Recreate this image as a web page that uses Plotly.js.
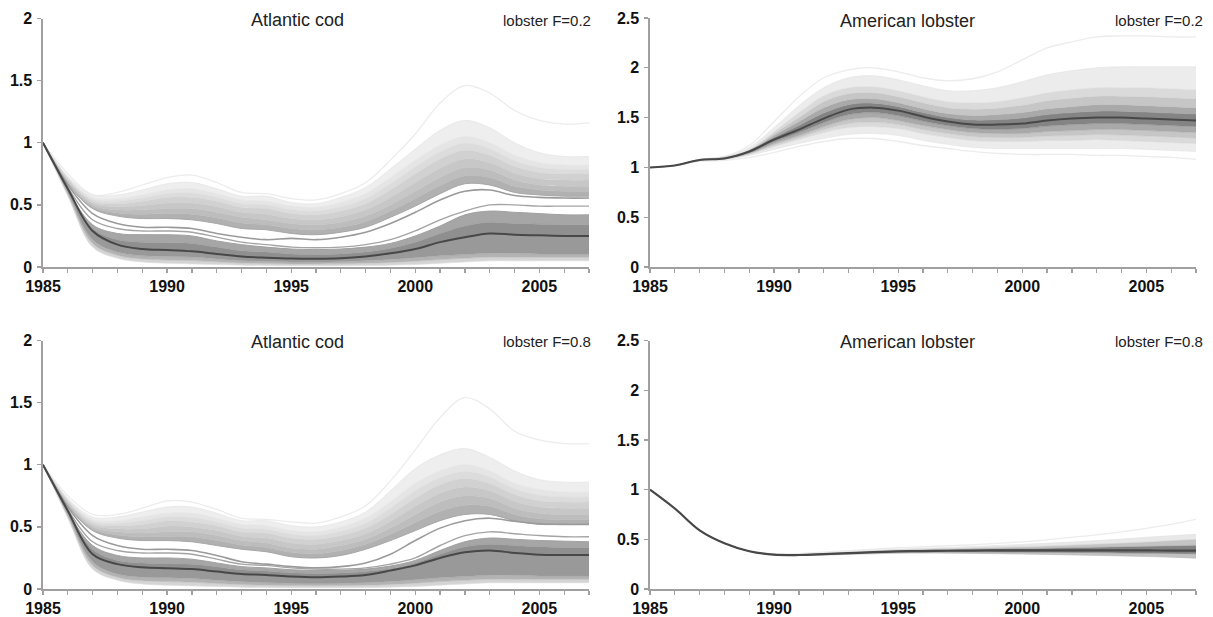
<!DOCTYPE html>
<html>
<head>
<meta charset="utf-8">
<script src="https://cdn.plot.ly/plotly-3.0.1.min.js"></script>
<style>html,body{margin:0;padding:0;background:#fff;}#chart{width:1213px;height:617px;}</style>
</head>
<body>
<div id="chart"></div>
<script>
// ---------- DATA ----------
const years = [1985,1986,1987,1988,1989,1990,1991,1992,1993,1994,1995,1996,1997,1998,1999,2000,2001,2002,2003,2004,2005,2006,2007];

const panelTitles = ["Atlantic cod","American lobster","Atlantic cod","American lobster"];
const panelTags = ["lobster F=0.2","lobster F=0.2","lobster F=0.8","lobster F=0.8"];
const yTickLabelsCod = [0,0.5,1,1.5,2];
const yTickLabelsLobster = [0,0.5,1,1.5,2,2.5];

// Atlantic cod, lobster F=0.2
const cod02_outlier = [1,0.75,0.58,0.60,0.66,0.72,0.74,0.68,0.60,0.59,0.55,0.54,0.59,0.68,0.86,1.07,1.32,1.46,1.40,1.26,1.18,1.15,1.16];
const cod02_u1 = [1,0.73,0.58,0.58,0.62,0.67,0.68,0.63,0.57,0.57,0.52,0.51,0.56,0.64,0.79,0.95,1.10,1.18,1.12,1.00,0.92,0.89,0.89];
const cod02_u2 = [1,0.72,0.56,0.55,0.58,0.62,0.63,0.59,0.54,0.53,0.49,0.48,0.52,0.59,0.72,0.86,0.98,1.05,1.00,0.90,0.84,0.82,0.82];
const cod02_u2b = [1,0.715,0.545,0.53,0.555,0.59,0.595,0.56,0.51,0.50,0.46,0.45,0.485,0.55,0.67,0.805,0.925,0.995,0.95,0.855,0.80,0.785,0.785];
const cod02_u3 = [1,0.71,0.53,0.51,0.53,0.56,0.56,0.53,0.48,0.47,0.43,0.42,0.45,0.51,0.62,0.75,0.87,0.94,0.90,0.81,0.76,0.75,0.75];
const cod02_u3b = [1,0.70,0.515,0.485,0.495,0.515,0.515,0.485,0.44,0.425,0.39,0.38,0.405,0.46,0.56,0.68,0.795,0.87,0.84,0.755,0.71,0.70,0.70];
const cod02_u4 = [1,0.69,0.50,0.46,0.46,0.47,0.47,0.44,0.40,0.38,0.35,0.34,0.36,0.41,0.50,0.61,0.72,0.80,0.78,0.70,0.66,0.65,0.65];
const cod02_u4b = [1,0.68,0.485,0.435,0.425,0.43,0.425,0.395,0.355,0.34,0.31,0.30,0.32,0.365,0.45,0.55,0.655,0.735,0.72,0.65,0.62,0.61,0.61];
const cod02_u5 = [1,0.67,0.47,0.41,0.39,0.39,0.38,0.35,0.31,0.30,0.27,0.26,0.28,0.32,0.40,0.49,0.59,0.67,0.66,0.60,0.58,0.57,0.57];
const cod02_g1 = [1,0.66,0.43,0.35,0.32,0.32,0.31,0.27,0.24,0.22,0.23,0.22,0.24,0.28,0.35,0.44,0.54,0.61,0.62,0.575,0.56,0.555,0.555];
const cod02_g2 = [1,0.64,0.38,0.31,0.29,0.29,0.28,0.24,0.20,0.18,0.16,0.155,0.16,0.18,0.22,0.29,0.38,0.45,0.50,0.50,0.49,0.49,0.49];
const cod02_l1 = [1,0.62,0.34,0.27,0.26,0.26,0.25,0.21,0.18,0.16,0.145,0.14,0.145,0.16,0.19,0.25,0.33,0.42,0.45,0.44,0.43,0.42,0.42];
const cod02_l2 = [1,0.625,0.31,0.22,0.20,0.195,0.19,0.16,0.13,0.12,0.105,0.10,0.105,0.12,0.15,0.20,0.27,0.33,0.36,0.35,0.345,0.34,0.34];
const cod02_median = [1,0.63,0.29,0.18,0.145,0.137,0.126,0.105,0.085,0.075,0.068,0.066,0.07,0.085,0.11,0.145,0.20,0.24,0.27,0.26,0.255,0.25,0.25];
const cod02_l3 = [1,0.60,0.22,0.12,0.09,0.085,0.08,0.065,0.05,0.045,0.04,0.04,0.042,0.05,0.06,0.075,0.09,0.10,0.11,0.11,0.105,0.105,0.105];
const cod02_l3b = [1,0.585,0.19,0.095,0.065,0.057,0.052,0.042,0.032,0.028,0.025,0.025,0.026,0.031,0.037,0.047,0.06,0.07,0.08,0.08,0.078,0.078,0.078];
const cod02_l4 = [1,0.57,0.16,0.07,0.04,0.03,0.025,0.02,0.015,0.012,0.01,0.01,0.01,0.012,0.015,0.02,0.03,0.04,0.05,0.05,0.05,0.05,0.05];

// American lobster, lobster F=0.2
const lob02_t0 = [1,1.02,1.08,1.11,1.22,1.46,1.71,1.90,1.98,2.00,1.96,1.90,1.87,1.89,1.96,2.08,2.20,2.26,2.31,2.32,2.32,2.31,2.31];
const lob02_t1 = [1,1.02,1.08,1.11,1.20,1.40,1.62,1.80,1.90,1.92,1.88,1.82,1.77,1.77,1.80,1.86,1.93,1.97,2.00,2.01,2.01,2.01,2.01];
const lob02_t2 = [1,1.02,1.08,1.10,1.18,1.36,1.55,1.72,1.80,1.81,1.77,1.71,1.66,1.65,1.66,1.70,1.75,1.78,1.80,1.80,1.80,1.79,1.78];
const lob02_t2b = [1,1.02,1.08,1.10,1.175,1.34,1.50,1.66,1.74,1.75,1.71,1.65,1.60,1.585,1.595,1.625,1.67,1.695,1.715,1.715,1.71,1.70,1.69];
const lob02_t3 = [1,1.02,1.08,1.10,1.17,1.32,1.46,1.60,1.68,1.69,1.65,1.59,1.54,1.52,1.53,1.55,1.59,1.61,1.63,1.63,1.62,1.61,1.60];
const lob02_t3b = [1,1.02,1.077,1.095,1.165,1.30,1.42,1.545,1.63,1.645,1.61,1.55,1.50,1.475,1.48,1.495,1.53,1.55,1.565,1.565,1.555,1.545,1.535];
const lob02_median = [1,1.02,1.075,1.09,1.16,1.28,1.38,1.49,1.58,1.60,1.57,1.51,1.46,1.43,1.43,1.44,1.47,1.49,1.50,1.50,1.49,1.48,1.47];
const lob02_b3b = [1,1.02,1.072,1.085,1.15,1.26,1.35,1.45,1.53,1.55,1.52,1.465,1.42,1.39,1.385,1.39,1.415,1.43,1.44,1.44,1.43,1.42,1.41];
const lob02_b3 = [1,1.02,1.07,1.08,1.14,1.24,1.32,1.41,1.48,1.50,1.47,1.42,1.38,1.35,1.34,1.34,1.36,1.37,1.38,1.38,1.37,1.36,1.35];
const lob02_b2b = [1,1.02,1.07,1.08,1.135,1.225,1.30,1.38,1.44,1.455,1.43,1.38,1.34,1.31,1.30,1.30,1.315,1.32,1.33,1.325,1.315,1.305,1.295];
const lob02_b2 = [1,1.02,1.07,1.08,1.13,1.21,1.28,1.35,1.40,1.41,1.39,1.34,1.30,1.27,1.26,1.26,1.27,1.27,1.28,1.27,1.26,1.25,1.24];
const lob02_b1 = [1,1.02,1.07,1.08,1.12,1.18,1.24,1.29,1.33,1.34,1.32,1.27,1.23,1.20,1.19,1.19,1.19,1.19,1.19,1.19,1.18,1.17,1.16];
const lob02_b0 = [1,1.02,1.06,1.07,1.10,1.15,1.21,1.26,1.29,1.29,1.26,1.22,1.19,1.16,1.14,1.13,1.13,1.13,1.12,1.12,1.11,1.10,1.08];

// Atlantic cod, lobster F=0.8
const cod08_outlier = [1,0.75,0.60,0.60,0.65,0.71,0.70,0.64,0.57,0.56,0.54,0.53,0.58,0.67,0.87,1.12,1.38,1.54,1.45,1.27,1.20,1.17,1.17];
const cod08_u1 = [1,0.73,0.58,0.58,0.62,0.66,0.66,0.61,0.55,0.55,0.51,0.50,0.54,0.62,0.79,0.97,1.08,1.13,1.06,0.95,0.88,0.86,0.86];
const cod08_u2 = [1,0.72,0.56,0.55,0.58,0.61,0.61,0.57,0.52,0.51,0.47,0.46,0.50,0.57,0.70,0.85,0.95,1.00,0.95,0.85,0.80,0.78,0.78];
const cod08_u2b = [1,0.715,0.545,0.53,0.55,0.58,0.575,0.54,0.49,0.48,0.44,0.43,0.465,0.53,0.65,0.79,0.895,0.945,0.90,0.805,0.755,0.74,0.74];
const cod08_u3 = [1,0.71,0.53,0.51,0.52,0.55,0.54,0.51,0.46,0.45,0.41,0.40,0.43,0.49,0.60,0.73,0.84,0.89,0.85,0.76,0.71,0.70,0.70];
const cod08_u3b = [1,0.70,0.515,0.485,0.485,0.505,0.50,0.47,0.425,0.41,0.37,0.36,0.39,0.445,0.545,0.665,0.77,0.82,0.79,0.705,0.66,0.65,0.65];
const cod08_u4 = [1,0.69,0.50,0.46,0.45,0.46,0.46,0.43,0.39,0.37,0.33,0.32,0.35,0.40,0.49,0.60,0.70,0.75,0.73,0.65,0.61,0.60,0.60];
const cod08_u4b = [1,0.68,0.485,0.435,0.42,0.425,0.42,0.39,0.355,0.335,0.295,0.285,0.31,0.36,0.44,0.535,0.625,0.675,0.665,0.60,0.565,0.56,0.56];
const cod08_u5 = [1,0.67,0.47,0.41,0.39,0.39,0.38,0.35,0.32,0.30,0.26,0.25,0.27,0.32,0.39,0.47,0.55,0.60,0.60,0.55,0.52,0.52,0.52];
const cod08_g1 = [1,0.66,0.43,0.35,0.32,0.32,0.31,0.27,0.22,0.20,0.18,0.17,0.18,0.21,0.28,0.39,0.49,0.55,0.57,0.545,0.525,0.52,0.52];
const cod08_g2 = [1,0.64,0.38,0.31,0.29,0.29,0.28,0.24,0.20,0.19,0.17,0.16,0.16,0.17,0.20,0.25,0.35,0.43,0.46,0.445,0.43,0.42,0.42];
const cod08_l1 = [1,0.62,0.35,0.27,0.25,0.25,0.24,0.21,0.18,0.17,0.155,0.15,0.15,0.16,0.185,0.23,0.31,0.38,0.41,0.40,0.39,0.385,0.38];
const cod08_l2 = [1,0.625,0.32,0.23,0.21,0.205,0.20,0.18,0.155,0.145,0.13,0.125,0.128,0.14,0.165,0.21,0.28,0.34,0.36,0.35,0.34,0.335,0.335];
const cod08_median = [1,0.63,0.28,0.20,0.175,0.167,0.16,0.14,0.12,0.113,0.10,0.094,0.10,0.113,0.148,0.19,0.25,0.295,0.31,0.29,0.276,0.274,0.274];
const cod08_l3 = [1,0.60,0.22,0.12,0.095,0.09,0.085,0.07,0.058,0.05,0.045,0.043,0.045,0.05,0.06,0.075,0.09,0.10,0.11,0.11,0.105,0.105,0.105];
const cod08_l3b = [1,0.585,0.19,0.095,0.067,0.06,0.055,0.045,0.036,0.031,0.028,0.027,0.028,0.031,0.037,0.047,0.06,0.07,0.08,0.08,0.078,0.078,0.078];
const cod08_l4 = [1,0.57,0.16,0.07,0.04,0.03,0.025,0.02,0.015,0.012,0.01,0.01,0.01,0.012,0.015,0.02,0.03,0.04,0.05,0.05,0.05,0.05,0.05];

// American lobster, lobster F=0.8
const lob08_t0 = [1,0.81,0.59,0.46,0.38,0.35,0.355,0.37,0.385,0.40,0.415,0.425,0.435,0.445,0.46,0.475,0.495,0.52,0.545,0.575,0.61,0.65,0.70];
const lob08_t1 = [1,0.81,0.59,0.46,0.38,0.348,0.35,0.36,0.375,0.388,0.40,0.41,0.418,0.427,0.437,0.448,0.46,0.472,0.487,0.502,0.52,0.535,0.55];
const lob08_t2 = [1,0.81,0.59,0.46,0.38,0.347,0.348,0.357,0.37,0.382,0.394,0.401,0.407,0.413,0.419,0.425,0.433,0.442,0.452,0.462,0.474,0.487,0.50];
const lob08_t3 = [1,0.81,0.59,0.46,0.38,0.346,0.345,0.353,0.364,0.375,0.385,0.391,0.395,0.399,0.403,0.407,0.411,0.416,0.421,0.426,0.431,0.435,0.44];
const lob08_median = [1,0.81,0.59,0.46,0.38,0.345,0.342,0.35,0.36,0.37,0.378,0.382,0.385,0.387,0.388,0.389,0.389,0.389,0.389,0.388,0.388,0.387,0.386];
const lob08_b3 = [1,0.81,0.59,0.46,0.38,0.344,0.339,0.346,0.355,0.363,0.37,0.373,0.374,0.374,0.373,0.372,0.37,0.368,0.366,0.363,0.361,0.358,0.355];
const lob08_b2 = [1,0.81,0.59,0.46,0.38,0.343,0.336,0.341,0.348,0.354,0.36,0.361,0.36,0.358,0.355,0.351,0.347,0.343,0.338,0.333,0.327,0.32,0.31];

// ---------- BUILD ----------
const traces = [];
function add(ax, y, lineColor, width, fillColor) {
  const t = {
    x: years, y: y, type: 'scatter', mode: 'lines',
    xaxis: 'x' + (ax === 1 ? '' : ax), yaxis: 'y' + (ax === 1 ? '' : ax),
    line: {color: lineColor, width: width, shape: 'spline', smoothing: 1},
    hoverinfo: 'skip'
  };
  if (fillColor) { t.fill = 'tonexty'; t.fillcolor = fillColor; } else { t.fill = 'none'; }
  traces.push(t);
}

function codPanel(ax, d) {
  add(ax, d.outlier, '#ececec', 1.3);
  add(ax, d.u1, '#e6e6e6', 0.8);
  add(ax, d.u2, '#e4e4e4', 0.6, '#eeeeee');
  add(ax, d.u2b, '#dddddd', 0.6, '#e5e5e5');
  add(ax, d.u3, '#d6d6d6', 0.6, '#dcdcdc');
  add(ax, d.u3b, '#cccccc', 0.6, '#d1d1d1');
  add(ax, d.u4, '#c2c2c2', 0.6, '#c7c7c7');
  add(ax, d.u4b, '#b8b8b8', 0.6, '#bdbdbd');
  add(ax, d.u5, '#a6a6a6', 1.0, '#b1b1b1');
  add(ax, d.g1, '#9a9a9a', 1.6);
  add(ax, d.g2, '#a4a4a4', 1.4);
  add(ax, d.l1, '#a0a0a0', 1.0);
  add(ax, d.l2, '#9c9c9c', 0.6, '#a6a6a6');
  add(ax, d.median, '#8e8e8e', 0.6, '#8f8f8f');
  add(ax, d.l3, '#a0a0a0', 0.6, '#999999');
  add(ax, d.l3b, '#b5b5b5', 0.6, '#b3b3b3');
  add(ax, d.l4, '#dddddd', 0.6, '#d4d4d4');
  add(ax, d.median, '#484848', 2.0);
}

codPanel(1, {outlier: cod02_outlier, u1: cod02_u1, u2: cod02_u2, u2b: cod02_u2b, u3: cod02_u3, u3b: cod02_u3b,
  u4: cod02_u4, u4b: cod02_u4b, u5: cod02_u5, g1: cod02_g1, g2: cod02_g2, l1: cod02_l1, l2: cod02_l2,
  median: cod02_median, l3: cod02_l3, l3b: cod02_l3b, l4: cod02_l4});

// lobster F=0.2
add(2, lob02_t0, '#ececec', 1.3);
add(2, lob02_t1, '#e6e6e6', 0.8);
add(2, lob02_t2, '#e0e0e0', 0.5, '#ececec');
add(2, lob02_t2b, '#d2d2d2', 0.5, '#dadada');
add(2, lob02_t3, '#c0c0c0', 0.5, '#c6c6c6');
add(2, lob02_t3b, '#a2a2a2', 0.5, '#a9a9a9');
add(2, lob02_median, '#7e7e7e', 0.5, '#848484');
add(2, lob02_b3b, '#7e7e7e', 0.5, '#848484');
add(2, lob02_b3, '#a2a2a2', 0.5, '#a9a9a9');
add(2, lob02_b2b, '#c0c0c0', 0.5, '#c6c6c6');
add(2, lob02_b2, '#d2d2d2', 0.5, '#dadada');
add(2, lob02_b1, '#e0e0e0', 0.5, '#ececec');
add(2, lob02_b0, '#ececec', 1.3);
add(2, lob02_median, '#484848', 2.0);

codPanel(3, {outlier: cod08_outlier, u1: cod08_u1, u2: cod08_u2, u2b: cod08_u2b, u3: cod08_u3, u3b: cod08_u3b,
  u4: cod08_u4, u4b: cod08_u4b, u5: cod08_u5, g1: cod08_g1, g2: cod08_g2, l1: cod08_l1, l2: cod08_l2,
  median: cod08_median, l3: cod08_l3, l3b: cod08_l3b, l4: cod08_l4});

// lobster F=0.8
add(4, lob08_t0, '#ececec', 1.3);
add(4, lob08_t1, '#e4e4e4', 0.8);
add(4, lob08_t2, '#d8d8d8', 0.6, '#e8e8e8');
add(4, lob08_t3, '#b0b0b0', 0.6, '#c4c4c4');
add(4, lob08_median, '#7a7a7a', 0.6, '#828282');
add(4, lob08_b3, '#7a7a7a', 0.6, '#828282');
add(4, lob08_b2, '#b8b8b8', 0.6, '#c2c2c2');
add(4, lob08_median, '#484848', 2.2);

const W = 1213, H = 617;
const axCol = '#a0a0a0';
const tickFont = {family: 'Liberation Sans, Arial, sans-serif', size: 16, color: '#111', weight: 'bold'};
function xa(l, r, anchor) {
  return {domain: [l / W, r / W], anchor: anchor, range: [1985, 2007], tick0: 1985, dtick: 5,
    ticks: 'outside', ticklen: 4, tickwidth: 1.3, tickcolor: axCol, showline: true, linecolor: axCol, linewidth: 1.6,
    showgrid: false, zeroline: false, tickfont: tickFont, fixedrange: true,
    minor: {dtick: 1, ticks: 'outside', ticklen: 4, tickwidth: 1.3, tickcolor: axCol, showgrid: false}};
}
function ya(top, bottom, anchor, rmax, vals) {
  return {domain: [1 - bottom / H, 1 - top / H], anchor: anchor, range: [0, rmax], tickvals: vals,
    ticks: 'outside', ticklen: 4, tickwidth: 1.3, tickcolor: axCol, showline: true, linecolor: axCol, linewidth: 1.6,
    showgrid: false, zeroline: false, tickfont: tickFont, fixedrange: true, ticklabelstandoff: 2};
}

const titleFont = {family: 'Liberation Sans, Arial, sans-serif', size: 18, color: '#222'};
const tagFont = {family: 'Liberation Sans Narrow, Arial Narrow, sans-serif', size: 15, color: '#222'};
const annotations = [
  {text: panelTitles[0], x: 297 / W, y: 1 - 20 / H, font: titleFont, xanchor: 'center'},
  {text: panelTags[0], x: 593 / W, y: 1 - 20 / H, font: tagFont, xanchor: 'right'},
  {text: panelTitles[1], x: 908 / W, y: 1 - 21 / H, font: titleFont, xanchor: 'center'},
  {text: panelTags[1], x: 1205 / W, y: 1 - 20 / H, font: tagFont, xanchor: 'right'},
  {text: panelTitles[2], x: 297 / W, y: 1 - 342 / H, font: titleFont, xanchor: 'center'},
  {text: panelTags[2], x: 593 / W, y: 1 - 342 / H, font: tagFont, xanchor: 'right'},
  {text: panelTitles[3], x: 908 / W, y: 1 - 342 / H, font: titleFont, xanchor: 'center'},
  {text: panelTags[3], x: 1205 / W, y: 1 - 342 / H, font: tagFont, xanchor: 'right'}
].map(a => Object.assign({xref: 'paper', yref: 'paper', yanchor: 'middle', showarrow: false}, a));

const layout = {
  width: W, height: H, margin: {l: 0, r: 0, t: 0, b: 0},
  paper_bgcolor: '#fff', plot_bgcolor: '#fff', showlegend: false,
  xaxis: xa(43, 589, 'y'), yaxis: ya(18.5, 267, 'x', 2, yTickLabelsCod),
  xaxis2: xa(650, 1196, 'y2'), yaxis2: ya(18, 267, 'x2', 2.5, yTickLabelsLobster),
  xaxis3: xa(43, 589, 'y3'), yaxis3: ya(340.5, 589, 'x3', 2, yTickLabelsCod),
  xaxis4: xa(650, 1196, 'y4'), yaxis4: ya(340.5, 589, 'x4', 2.5, yTickLabelsLobster),
  annotations: annotations
};

Plotly.newPlot('chart', traces, layout, {staticPlot: true, displayModeBar: false});
</script>
</body>
</html>
